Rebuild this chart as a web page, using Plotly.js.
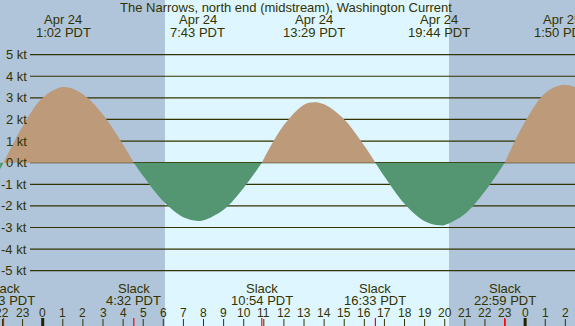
<!DOCTYPE html>
<html>
<head>
<meta charset="utf-8">
<script src="https://cdn.plot.ly/plotly-3.0.1.min.js"></script>
<style>html,body{margin:0;padding:0;overflow:hidden;}#chart{width:575px;height:326px;}</style>
</head>
<body>
<div id="chart"></div>
<script>
// Hours relative to Apr 24 00:00 PDT, current speed in knots
const hours = [-2.12, -1.95, -1, 0, 1.033, 2, 3, 4, 4.533, 5, 6, 7, 7.717, 8, 9, 10, 10.9, 12, 13, 13.483, 14, 15, 16, 16.55, 17, 18, 19, 19.733, 20, 21, 22, 22.983, 24, 25, 25.833, 26.5];
const speed = [-0.3, 0, 1.68, 3.0, 3.5, 3.17, 2.22, 0.83, 0, -0.62, -1.79, -2.53, -2.7, -2.67, -2.18, -1.16, 0, 1.74, 2.68, 2.8, 2.70, 2.0, 0.78, 0, -0.64, -1.90, -2.71, -2.9, -2.88, -2.37, -1.32, 0, 1.91, 3.23, 3.6, 3.5];

// Max flood / ebb events
const maxHours = [1.033, 7.717, 13.483, 19.733, 25.833];
const maxDates = ["Apr 24", "Apr 24", "Apr 24", "Apr 24", "Apr 25"];
const maxTimes = ["1:02 PDT", "7:43 PDT", "13:29 PDT", "19:44 PDT", "1:50 PDT"];

// Slack events
const slackHours = [-1.95, 4.533, 10.9, 16.55, 22.983];
const slackTimes = ["22:03 PDT", "4:32 PDT", "10:54 PDT", "16:33 PDT", "22:59 PDT"];

// Daylight
const sunrise = 6.08, sunset = 20.21;

// Axis ticks
const yTicks = [5, 4, 3, 2, 1, 0, -1, -2, -3, -4, -5];
const yLabels = ["5 kt", "4 kt", "3 kt", "2 kt", "1 kt", "0 kt", "-1 kt", "-2 kt", "-3 kt", "-4 kt", "-5 kt"];
const hourTicks = [-2, -1, 0, 1, 2, 3, 4, 5, 6, 7, 8, 9, 10, 11, 12, 13, 14, 15, 16, 17, 18, 19, 20, 21, 22, 23, 24, 25, 26];
const hourLabels = ["22", "23", "0", "1", "2", "3", "4", "5", "6", "7", "8", "9", "10", "11", "12", "13", "14", "15", "16", "17", "18", "19", "20", "21", "22", "23", "0", "1", "2"];

const title = "The Narrows, north end (midstream), Washington Current";

const NIGHT = "#b0c4da", DAY = "#ddf6ff", FLOOD = "#bc9a7a", EBB = "#539671", INK = "#333300";
const FONT = "Liberation Sans, Arial, sans-serif";
const W = 575, H = 326;

// split into segments between slack points
const traces = [];
let segX = [], segY = [];
function pushSeg() {
  if (segX.length < 2) return;
  let s = 0; segY.forEach(v => s += v);
  const c = s >= 0 ? FLOOD : EBB;
  traces.push({x: segX, y: segY, type: "scatter", mode: "lines", fill: "tozeroy",
    fillcolor: c, line: {color: c, width: 0, shape: "spline", smoothing: 1}, hoverinfo: "skip"});
}
for (let i = 0; i < hours.length; i++) {
  segX.push(hours[i]); segY.push(speed[i]);
  if (speed[i] === 0 && segX.length > 1) {
    pushSeg();
    segX = [hours[i]]; segY = [speed[i]];
  }
}
pushSeg();

const shapes = [];
shapes.push({type: "rect", xref: "x", yref: "paper", x0: sunrise, x1: sunset, y0: 0, y1: 1,
  fillcolor: DAY, line: {width: 0}, layer: "below"});
yTicks.forEach(v => shapes.push({type: "line", xref: "paper", yref: "y", x0: 30 / W, x1: 1, y0: v, y1: v,
  line: {color: INK, width: 1.2}, layer: "below"}));
hourTicks.forEach(h => {
  const midnight = (h % 24 === 0);
  shapes.push({type: "line", xref: "x", yref: "paper", x0: h, x1: h, y0: 0, y1: (midnight ? 8 : 7) / H,
    line: {color: midnight ? "#222200" : INK, width: midnight ? 3 : 1}});
});
slackHours.forEach(h => shapes.push({type: "line", xref: "x", yref: "paper", x0: h, x1: h, y0: 0, y1: 8 / H,
  line: {color: "#ff0000", width: 1.2}}));

const ann = [];
const f = (s) => ({family: FONT, size: s, color: INK});
ann.push({text: title, xref: "paper", yref: "paper", x: 286 / W, y: 1 - 7.5 / H, xanchor: "center", yanchor: "middle", showarrow: false, font: f(13)});
maxHours.forEach((h, i) => {
  ann.push({text: maxDates[i], xref: "x", yref: "paper", x: h, y: 1 - 20 / H, xanchor: "center", yanchor: "middle", showarrow: false, font: f(13)});
  ann.push({text: maxTimes[i], xref: "x", yref: "paper", x: h, y: 1 - 32.5 / H, xanchor: "center", yanchor: "middle", showarrow: false, font: f(13)});
});
slackHours.forEach((h, i) => {
  ann.push({text: "Slack", xref: "x", yref: "paper", x: h, y: 1 - 288.5 / H, xanchor: "center", yanchor: "middle", showarrow: false, font: f(13)});
  ann.push({text: slackTimes[i], xref: "x", yref: "paper", x: h, y: 1 - 300 / H, xanchor: "center", yanchor: "middle", showarrow: false, font: f(13)});
});
hourTicks.forEach((h, i) => ann.push({text: hourLabels[i], xref: "x", yref: "paper", x: h, y: 1 - 313 / H,
  xanchor: "center", yanchor: "middle", showarrow: false, font: f(12)}));
yTicks.forEach((v, i) => ann.push({text: yLabels[i], xref: "paper", yref: "y", x: 29 / W, y: v,
  xanchor: "right", yanchor: "middle", showarrow: false, font: f(13)}));

const layout = {
  width: W, height: H, margin: {l: 0, r: 0, t: 0, b: 0},
  paper_bgcolor: NIGHT, plot_bgcolor: NIGHT, showlegend: false,
  xaxis: {range: [-2.124, 26.48], visible: false, fixedrange: true},
  yaxis: {range: [-7.56, 7.53], visible: false, fixedrange: true},
  shapes: shapes, annotations: ann
};
Plotly.newPlot("chart", traces, layout, {displayModeBar: false, staticPlot: true});
</script>
</body>
</html>
